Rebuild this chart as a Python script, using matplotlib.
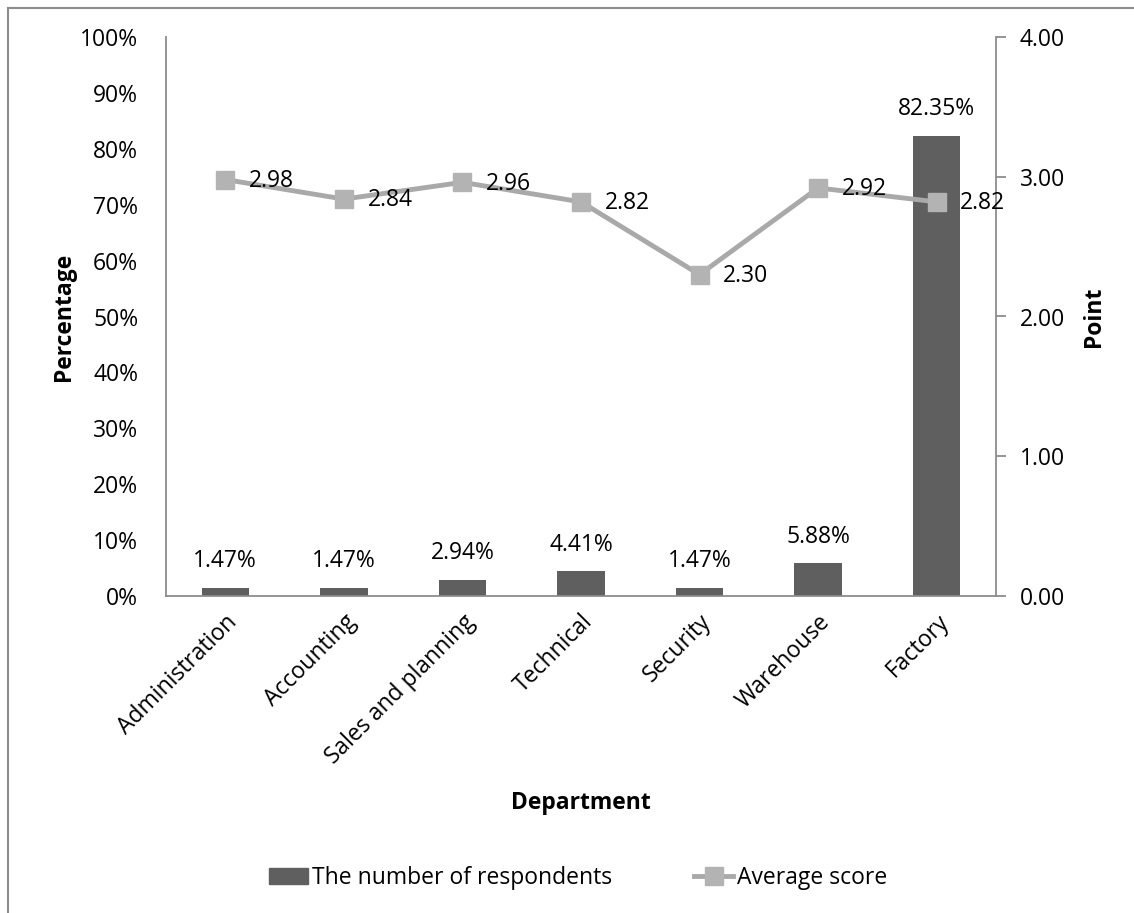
import matplotlib
matplotlib.use("Agg")
import matplotlib.pyplot as plt
from matplotlib.lines import Line2D
from matplotlib.patches import Patch

departments = ["Administration", "Accounting", "Sales and planning", "Technical",
               "Security", "Warehouse", "Factory"]
respondents_pct = [1.47, 1.47, 2.94, 4.41, 1.47, 5.88, 82.35]
average_score = [2.98, 2.84, 2.96, 2.82, 2.30, 2.92, 2.82]
pct_ticks = list(range(0, 101, 10))
score_ticks = [0.0, 1.0, 2.0, 3.0, 4.0]

BAR_COLOR = "#5f5f5f"
LINE_COLOR = "#a9a9a9"
MARKER_COLOR = "#b3b3b3"
AXIS_COLOR = "#8c8c8c"
FONT = ["Open Sans", "DejaVu Sans"]
FS = 16.5

plt.rcParams["font.family"] = FONT

W, H = 1134, 913
fig = plt.figure(figsize=(W / 100, H / 100), dpi=100)
ax = fig.add_axes([166 / W, 1 - 596 / H, (996 - 166) / W, (596 - 37) / H])
ax2 = ax.twinx()

x = list(range(len(departments)))
ax.bar(x, respondents_pct, width=0.4, color=BAR_COLOR, zorder=2)
for xi, v in zip(x, respondents_pct):
    ax.annotate(f"{v:.2f}%", (xi, v), xytext=(0, 19), textcoords="offset points",
                ha="center", va="center", fontsize=FS, color="black")

ax.set_xlim(-0.5, len(departments) - 0.5)
ax.set_ylim(0, 100)
ax.set_yticks(pct_ticks)
ax.set_yticklabels([f"{t}%" for t in pct_ticks], fontsize=FS)
ax.set_xticks(x)
ax.set_xticklabels(departments, rotation=45, ha="right", rotation_mode="anchor", fontsize=FS)
ax.tick_params(axis="x", length=0, pad=10)
ax.tick_params(axis="y", length=0, pad=20)
for s in ["top", "right"]:
    ax.spines[s].set_visible(False)
for s in ["left", "bottom"]:
    ax.spines[s].set_color(AXIS_COLOR)
    ax.spines[s].set_linewidth(1.3)
ax.set_ylabel("Percentage", fontsize=FS, fontweight="bold", labelpad=3)
ax.set_xlabel("Department", fontsize=FS, fontweight="bold", labelpad=16)

ax2.plot(x, average_score, color=LINE_COLOR, linewidth=3.5, marker="s", markersize=13,
         markerfacecolor=MARKER_COLOR, markeredgecolor=MARKER_COLOR, zorder=3)
for xi, v in zip(x, average_score):
    ax2.annotate(f"{v:.2f}", (xi, v), xytext=(17, -1), textcoords="offset points",
                 ha="left", va="center", fontsize=FS, color="black")
ax2.set_ylim(0, 4)
ax2.set_yticks(score_ticks)
ax2.set_yticklabels([f"{t:.2f}" for t in score_ticks], fontsize=FS)
ax2.tick_params(axis="y", length=7, width=1.3, color=AXIS_COLOR, pad=10)
for s in ["top", "left", "bottom"]:
    ax2.spines[s].set_visible(False)
ax2.spines["right"].set_color(AXIS_COLOR)
ax2.spines["right"].set_linewidth(1.3)
ax2.set_ylabel("Point", fontsize=FS, fontweight="bold", labelpad=12)

handles = [
    Patch(facecolor=BAR_COLOR, edgecolor=BAR_COLOR),
    Line2D([0], [0], color=LINE_COLOR, linewidth=3.5, marker="s", markersize=13,
           markerfacecolor=MARKER_COLOR, markeredgecolor=MARKER_COLOR),
]
fig.legend(handles, ["The number of respondents", "Average score"], loc="center",
           bbox_to_anchor=(578 / W, 1 - 878 / H), ncol=2, frameon=False, fontsize=FS,
           handlelength=1.7, handletextpad=0.15, columnspacing=3.6)

# outer chart frame
fig.add_artist(Line2D([8 / W, 8 / W], [0, 1 - 8 / H], color=AXIS_COLOR, linewidth=1.5,
                      transform=fig.transFigure))
fig.add_artist(Line2D([8 / W, 1], [1 - 8 / H, 1 - 8 / H], color=AXIS_COLOR, linewidth=1.5,
                      transform=fig.transFigure))

fig.savefig("out.png", dpi=100, facecolor="white")
